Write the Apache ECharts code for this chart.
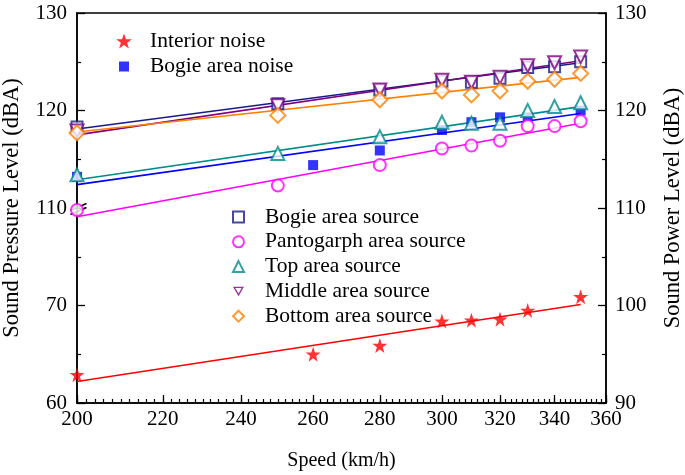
<!DOCTYPE html>
<html><head><meta charset="utf-8">
<script src="https://cdn.jsdelivr.net/npm/echarts@6/dist/echarts.min.js"></script>
<style>html,body{margin:0;padding:0;background:#fff}#c{width:685px;height:475px}</style>
</head><body><div id="c"></div>
<script>
// ---- data ----
const speedTicks = [200, 220, 240, 260, 280, 300, 320, 340, 360];
const leftTickLabels = {60: '60', 70: '70', 80: '110', 90: '120', 100: '130'};
const rightTickLabels = [90, 100, 110, 120, 130];

const noiseSpeeds = [200, 260, 280, 300, 310, 320, 330, 350];
const interiorNoise = [62.9, 65.0, 65.9, 68.4, 68.5, 68.6, 69.5, 70.9];
const bogieNoise = [113.2, 114.4, 115.9, 118.0, 118.8, 119.3, 119.3, 120.0];

const sourceSpeeds = [200, 250, 280, 300, 310, 320, 330, 340, 350];
const bogieSource = [118.3, 120.7, 122.1, 123.0, 122.9, 123.3, 124.4, 124.5, 125.0];
const pantographSource = [109.8, 112.3, 114.4, 116.1, 116.4, 116.9, 118.4, 118.4, 118.9];
const topSource = [113.4, 115.6, 117.3, 118.8, 118.7, 118.7, 120.0, 120.4, 120.8];
const middleSource = [117.9, 120.5, 122.1, 123.1, 122.9, 123.4, 124.6, 124.9, 125.5];
const bottomSource = [117.7, 119.5, 121.1, 122.0, 121.6, 122.0, 123.0, 123.2, 123.8];

const fitSpeeds = [200, 350];
const interiorFit = [62.2, 70.1];
const bogieNoiseFit = [112.4, 119.7];
const bogieSourceFit = [118.1, 124.9];
const pantographFit = [109.1, 118.7];
const topFit = [112.9, 120.4];
const middleFit = [117.5, 125.1];
const bottomFit = [117.8, 123.4];

// ---- build ----
const FONT = 'Liberation Serif';
const minorSpeedTicks = [];
for (let s = speedTicks[0]; s <= speedTicks[speedTicks.length - 1]; s += 2) minorSpeedTicks.push(s);
const pairs = (xs, ys) => xs.map((x, i) => [x, ys[i]]);
const STAR = 'path://M50,0 L61.8,35.1 L98.1,35.1 L68.8,56.7 L79.4,90.9 L50,69.1 L20.6,90.9 L31.2,56.7 L1.9,35.1 L38.2,35.1 Z';
const LEGEND_SQUARE = 'path://M0,0M16,16M3,3L13,3L13,13L3,13Z';
const LEGEND_DOWN_TRI = 'path://M0,0L100,0L50,86.6ZM20.8,12L50,62.6L79.2,12Z';

const C = {
  interior: '#ff0000', bogieNoise: '#0000ff', bogieSrc: '#1a1a8c', panto: '#ff00ff',
  top: '#008b8b', middle: '#800080', bottom: '#ff8000'
};

function fit(name, ys, color, yIdx) {
  return { name: name + ' fit', type: 'line', xAxisIndex: 0, yAxisIndex: yIdx, data: pairs(fitSpeeds, ys),
    symbol: 'none', lineStyle: { color, width: 1.6 }, z: 2, silent: true };
}
function pts(name, xs, ys, color, yIdx, symbol, size, extra) {
  return Object.assign({ name, type: 'scatter', xAxisIndex: 0, yAxisIndex: yIdx, data: pairs(xs, ys),
    symbol, symbolSize: size, itemStyle: { color, borderWidth: 1.3 }, z: 5 }, extra || {});
}

const tickTxt = { fontFamily: FONT, fontSize: 21, color: '#000' };
const xNameTxt = { fontFamily: FONT, fontSize: 20, color: '#000' };
const yNameTxt = { fontFamily: FONT, fontSize: 22.5, color: '#000' };
const legTxt = (pad) => ({ fontFamily: FONT, fontSize: 21.5, color: '#000', lineHeight: 21.5, padding: [0, 0, 0, pad] });
const gridBox = { left: 77, right: 79, top: 13, bottom: 72, outerBoundsMode: 'none', containLabel: false };
const chart = echarts.init(document.getElementById('c'), null, { renderer: 'canvas' });
chart.setOption({
  animation: false,
  backgroundColor: '#fff',
  grid: [
    Object.assign({ show: true, borderColor: '#000', borderWidth: 1.5, backgroundColor: 'transparent' }, gridBox),
    Object.assign({ show: false }, gridBox)
  ],
  xAxis: [
    { type: 'log', gridIndex: 0, min: 200, max: 360, name: 'Speed (km/h)', nameLocation: 'middle', nameGap: 48,
      nameTextStyle: xNameTxt,
      axisLine: { lineStyle: { color: '#000', width: 1.5 } },
      axisTick: { inside: true, length: 8, lineStyle: { color: '#000', width: 1.3 }, customValues: speedTicks },
      axisLabel: Object.assign({ margin: 6, customValues: speedTicks, formatter: v => String(Math.round(v)) }, tickTxt),
      splitLine: { show: false }, minorTick: { show: false }, minorSplitLine: { show: false } },
    { type: 'log', gridIndex: 1, min: 200, max: 360,
      axisLine: { show: false },
      axisTick: { inside: true, length: 4, lineStyle: { color: '#000', width: 1.2 }, customValues: minorSpeedTicks },
      axisLabel: { show: false }, splitLine: { show: false } }
  ],
  yAxis: [
    { type: 'value', gridIndex: 0, min: 60, max: 100, interval: 10, position: 'left',
      name: 'Sound Pressure Level (dBA)', nameLocation: 'middle', nameGap: 53, nameRotate: 90, nameTextStyle: yNameTxt,
      axisLine: { show: true, lineStyle: { color: '#000', width: 1.5 } },
      axisTick: { inside: true, length: 8, lineStyle: { color: '#000', width: 1.3 } },
      minorTick: { show: true, splitNumber: 2, length: 4, lineStyle: { color: '#000', width: 1.2 } },
      axisLabel: Object.assign({ margin: 10, formatter: v => leftTickLabels[v] }, tickTxt),
      splitLine: { show: false } },
    { type: 'value', gridIndex: 0, min: rightTickLabels[0], max: rightTickLabels[rightTickLabels.length - 1], interval: 10, position: 'right',
      name: 'Sound Power Level (dBA)', nameLocation: 'middle', nameGap: 56, nameRotate: 90, nameTextStyle: yNameTxt,
      axisLine: { show: true, lineStyle: { color: '#000', width: 1.5 } },
      axisTick: { inside: true, length: 8, lineStyle: { color: '#000', width: 1.3 } },
      minorTick: { show: true, splitNumber: 2, length: 4, lineStyle: { color: '#000', width: 1.2 } },
      axisLabel: Object.assign({ margin: 9 }, tickTxt),
      splitLine: { show: false } },
    { type: 'value', gridIndex: 1, min: 90, max: 130, show: false }
  ],
  legend: [
    { left: 111, top: 25, orient: 'vertical', itemWidth: 16, itemHeight: 16, itemGap: 3.5,
      textStyle: legTxt(13),
      data: [ { name: 'Interior noise', icon: STAR }, { name: 'Bogie area noise', icon: LEGEND_SQUARE } ] },
    { left: 227, top: 201, orient: 'vertical', itemWidth: 11, itemHeight: 11, itemGap: 2.8,
      textStyle: legTxt(16),
      data: [ { name: 'Bogie area source', icon: 'emptyRect' }, { name: 'Pantogarph area source', icon: 'emptyCircle' },
              { name: 'Top area source', icon: 'emptyTriangle' },
              { name: 'Middle area source', icon: LEGEND_DOWN_TRI },
              { name: 'Bottom area source', icon: 'emptyDiamond' } ] }
  ],
  series: [
    fit('Interior noise', interiorFit, C.interior, 0),
    fit('Bogie area noise', bogieNoiseFit, C.bogieNoise, 1),
    fit('Bogie area source', bogieSourceFit, C.bogieSrc, 1),
    fit('Pantogarph area source', pantographFit, C.panto, 1),
    fit('Top area source', topFit, C.top, 1),
    fit('Middle area source', middleFit, C.middle, 1),
    fit('Bottom area source', bottomFit, C.bottom, 1),
    pts('Interior noise', noiseSpeeds, interiorNoise, C.interior, 0, STAR, 15),
    pts('Bogie area noise', noiseSpeeds, bogieNoise, C.bogieNoise, 1, 'rect', 10),
    pts('Bogie area source', sourceSpeeds, bogieSource, C.bogieSrc, 1, 'emptyRect', 11),
    pts('Pantogarph area source', sourceSpeeds, pantographSource, C.panto, 1, 'emptyCircle', 12),
    pts('Top area source', sourceSpeeds, topSource, C.top, 1, 'emptyTriangle', 13),
    pts('Middle area source', sourceSpeeds, middleSource, C.middle, 1, 'emptyTriangle', 13, { symbolRotate: 180 }),
    pts('Bottom area source', sourceSpeeds, bottomSource, C.bottom, 1, 'emptyDiamond', 15)
  ],
  graphic: [
    { type: 'group', left: 68, top: 201, z: 100, children: [
      { type: 'polygon', shape: { points: [[0, 9], [16, 2], [16, 6], [0, 13]] }, style: { fill: '#fff' } },
      { type: 'line', shape: { x1: 0, y1: 9, x2: 16, y2: 2 }, style: { stroke: '#000', lineWidth: 1.4 } },
      { type: 'line', shape: { x1: 0, y1: 13, x2: 16, y2: 6 }, style: { stroke: '#000', lineWidth: 1.4 } }
    ] }
  ]
});
</script></body></html>
